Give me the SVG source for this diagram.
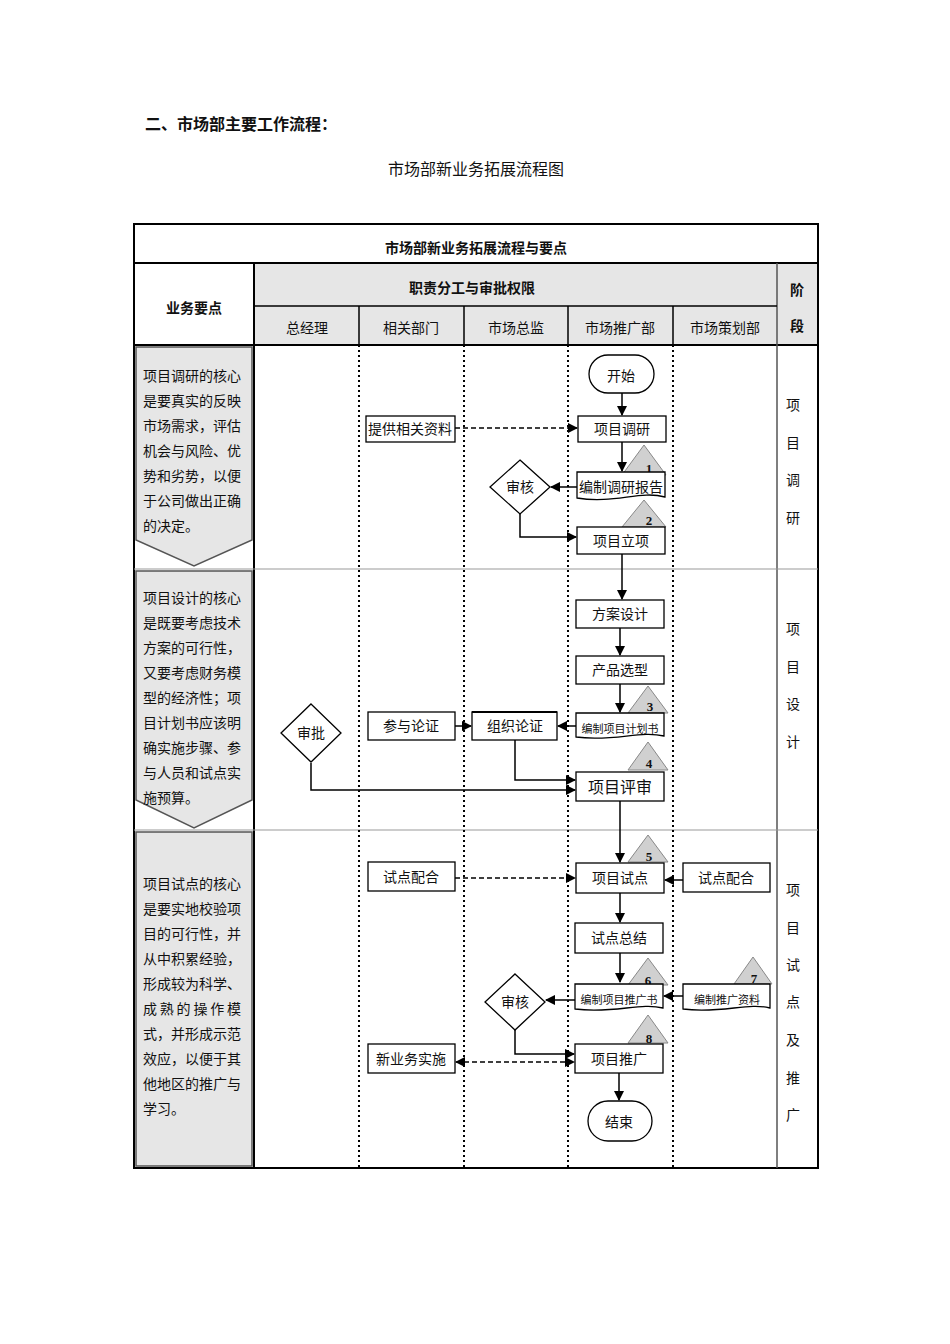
<svg xmlns="http://www.w3.org/2000/svg" width="950" height="1344" viewBox="0 0 950 1344">
<defs>
<marker id="ar" viewBox="0 0 10 10" refX="9" refY="5" markerWidth="7" markerHeight="7" orient="auto-start-reverse"><path d="M0,0 L10,5 L0,10 z" fill="#000"/></marker>
<style>
text{font-family:"Liberation Serif","Noto Sans CJK SC",serif;fill:#111}
.b{font-weight:bold;font-family:"Liberation Sans","Noto Sans CJK SC",sans-serif}
.t{font-size:14px;text-anchor:middle}
.s{font-size:11px;text-anchor:middle}
.l{font-size:14px}
.box{fill:#fff;stroke:#000;stroke-width:1.3}
.tri{fill:#d0d0d0;stroke:#888;stroke-width:1}
.num{font-size:13px;font-weight:bold;text-anchor:middle}
.ln{fill:none;stroke:#000;stroke-width:1.5}
.da{fill:none;stroke:#000;stroke-width:1.5;stroke-dasharray:5,3}
.dot{stroke:#000;stroke-width:2;stroke-dasharray:2,3}
.grid{stroke:#999;stroke-width:1}
.pent{fill:#e6e6e6;stroke:#555;stroke-width:1.5}
</style>
</defs>
<text x="145" y="130" class="b" font-size="16">二、市场部主要工作流程：</text>
<text x="476" y="175" font-size="16" text-anchor="middle">市场部新业务拓展流程图</text>

<g id="table">
<rect x="254" y="263" width="564" height="82" fill="#e6e6e6"/>
<rect x="134" y="224" width="684" height="944" fill="none" stroke="#000" stroke-width="2"/>
<line x1="134" y1="263" x2="818" y2="263" stroke="#000" stroke-width="2"/>
<line x1="134" y1="345" x2="818" y2="345" stroke="#000" stroke-width="2"/>
<line x1="254" y1="263" x2="254" y2="1168" stroke="#000" stroke-width="2"/>
<line x1="777" y1="263" x2="777" y2="1168" stroke="#555" stroke-width="1.5"/>
<line x1="254" y1="306" x2="777" y2="306" stroke="#000" stroke-width="1.5"/>
<line x1="134" y1="569" x2="818" y2="569" class="grid"/>
<line x1="134" y1="830" x2="818" y2="830" class="grid"/>
<line x1="359" y1="306" x2="359" y2="345" stroke="#000" stroke-width="1.5"/>
<line x1="464" y1="306" x2="464" y2="345" stroke="#000" stroke-width="1.5"/>
<line x1="568" y1="306" x2="568" y2="345" stroke="#000" stroke-width="1.5"/>
<line x1="673" y1="306" x2="673" y2="345" stroke="#000" stroke-width="1.5"/>
<line x1="359" y1="345" x2="359" y2="1168" class="dot"/>
<line x1="464" y1="345" x2="464" y2="1168" class="dot"/>
<line x1="568" y1="345" x2="568" y2="1168" class="dot"/>
<line x1="673" y1="345" x2="673" y2="1168" class="dot"/>
<text x="476" y="253" class="b t">市场部新业务拓展流程与要点</text>
<text x="472" y="293" class="b t">职责分工与审批权限</text>
<text x="194" y="313" class="b t">业务要点</text>
<text x="797" y="295" class="b t">阶</text>
<text x="797" y="331" class="b t">段</text>
<text x="307" y="333" class="t">总经理</text>
<text x="411" y="333" class="t">相关部门</text>
<text x="516" y="333" class="t">市场总监</text>
<text x="620" y="333" class="t">市场推广部</text>
<text x="725" y="333" class="t">市场策划部</text>
</g>

<g id="phases" class="t">
<text x="793" y="410" class="t">项</text><text x="793" y="448" class="t">目</text><text x="793" y="485" class="t">调</text><text x="793" y="523" class="t">研</text>
<text x="793" y="634" class="t">项</text><text x="793" y="672" class="t">目</text><text x="793" y="709" class="t">设</text><text x="793" y="747" class="t">计</text>
<text x="793" y="895" class="t">项</text><text x="793" y="933" class="t">目</text><text x="793" y="970" class="t">试</text><text x="793" y="1007" class="t">点</text><text x="793" y="1045" class="t">及</text><text x="793" y="1083" class="t">推</text><text x="793" y="1120" class="t">广</text>
</g>

<g id="points">
<path class="pent" d="M136,347 H252 V540 L194,566 L136,540 Z"/>
<path class="pent" d="M136,571 H252 V800 L194,828 L136,800 Z"/>
<rect class="pent" x="136" y="832" width="116" height="334"/>
<text class="l" x="143" y="381">项目调研的核心</text>
<text class="l" x="143" y="406">是要真实的反映</text>
<text class="l" x="143" y="431">市场需求，评估</text>
<text class="l" x="143" y="456">机会与风险、优</text>
<text class="l" x="143" y="481">势和劣势，以便</text>
<text class="l" x="143" y="506">于公司做出正确</text>
<text class="l" x="143" y="531">的决定。</text>
<text class="l" x="143" y="603">项目设计的核心</text>
<text class="l" x="143" y="628">是既要考虑技术</text>
<text class="l" x="143" y="653">方案的可行性，</text>
<text class="l" x="143" y="678">又要考虑财务模</text>
<text class="l" x="143" y="703">型的经济性；项</text>
<text class="l" x="143" y="728">目计划书应该明</text>
<text class="l" x="143" y="753">确实施步骤、参</text>
<text class="l" x="143" y="778">与人员和试点实</text>
<text class="l" x="143" y="803">施预算。</text>
<text class="l" x="143" y="889">项目试点的核心</text>
<text class="l" x="143" y="914">是要实地校验项</text>
<text class="l" x="143" y="939">目的可行性，并</text>
<text class="l" x="143" y="964">从中积累经验，</text>
<text class="l" x="143" y="989">形成较为科学、</text>
<text class="l" x="143" y="1014" textLength="98">成熟的操作模</text>
<text class="l" x="143" y="1039">式，并形成示范</text>
<text class="l" x="143" y="1064">效应，以便于其</text>
<text class="l" x="143" y="1089">他地区的推广与</text>
<text class="l" x="143" y="1114">学习。</text>
</g>

<g id="connectors">
<line class="ln" x1="622" y1="393" x2="622" y2="415" marker-end="url(#ar)"/>
<line class="da" x1="455" y1="428" x2="577" y2="428" marker-end="url(#ar)"/>
<line class="ln" x1="622" y1="442" x2="622" y2="471" marker-end="url(#ar)"/>
<line class="ln" x1="577" y1="487" x2="551" y2="487" marker-end="url(#ar)"/>
<polyline class="ln" points="520,514 520,537 576,537" marker-end="url(#ar)"/>
<line class="ln" x1="622" y1="554" x2="622" y2="599" marker-end="url(#ar)"/>
<line class="ln" x1="620" y1="628" x2="620" y2="655" marker-end="url(#ar)"/>
<line class="ln" x1="620" y1="684" x2="620" y2="712" marker-end="url(#ar)"/>
<line class="ln" x1="576" y1="726" x2="558" y2="726" marker-end="url(#ar)"/>
<line class="ln" x1="455" y1="726" x2="471" y2="726" marker-end="url(#ar)"/>
<polyline class="ln" points="515,740 515,780 575,780" marker-end="url(#ar)"/>
<polyline class="ln" points="311,763 311,790 575,790" marker-end="url(#ar)"/>
<line class="ln" x1="620" y1="801" x2="620" y2="862" marker-end="url(#ar)"/>
<line class="da" x1="455" y1="878" x2="575" y2="878" marker-end="url(#ar)"/>
<line class="ln" x1="683" y1="880" x2="665" y2="880" marker-end="url(#ar)"/>
<line class="ln" x1="620" y1="893" x2="620" y2="922" marker-end="url(#ar)"/>
<line class="ln" x1="620" y1="953" x2="620" y2="982" marker-end="url(#ar)"/>
<line class="ln" x1="683" y1="996" x2="664" y2="996" marker-end="url(#ar)"/>
<line class="ln" x1="575" y1="1000" x2="546" y2="1000" marker-end="url(#ar)"/>
<polyline class="ln" points="515,1030 515,1054 574,1054" marker-end="url(#ar)"/>
<line class="da" x1="456" y1="1062" x2="574" y2="1062" marker-start="url(#ar)" marker-end="url(#ar)"/>
<line class="ln" x1="619" y1="1073" x2="619" y2="1100" marker-end="url(#ar)"/>
</g>

<g id="start"><rect class="box" x="589" y="355" width="65" height="38" rx="19"/><text class="t" x="621" y="381">开始</text></g>
<g id="n-research"><rect class="box" x="578" y="416" width="88" height="26"/><text class="t" x="622" y="434">项目调研</text></g>
<g id="n-provide"><rect class="box" x="366" y="416" width="89" height="26"/><text class="t" x="410" y="434">提供相关资料</text></g>
<g id="tri1"><path class="tri" d="M644,445 L666,475 L622,475 Z"/><text class="num" x="649" y="473">1</text></g>
<g id="n-report"><path class="box" d="M577,472 H665 V497 C640,490 615,504 577,498 Z"/><text class="t" x="621" y="492">编制调研报告</text></g>
<g id="tri2"><path class="tri" d="M644,500 L666,527 L622,527 Z"/><text class="num" x="649" y="525">2</text></g>
<g id="d-review1"><path class="box" d="M520,460 L550,487 L520,514 L490,487 Z"/><text class="t" x="520" y="492">审核</text></g>
<g id="n-setup"><rect class="box" x="577" y="527" width="88" height="27"/><text class="t" x="621" y="546">项目立项</text></g>

<g id="n-design"><rect class="box" x="576" y="600" width="88" height="28"/><text class="t" x="620" y="619">方案设计</text></g>
<g id="n-product"><rect class="box" x="576" y="656" width="88" height="28" stroke-width="2"/><text class="t" x="620" y="675">产品选型</text></g>
<g id="tri3"><path class="tri" d="M648,686 L668,713 L628,713 Z"/><text class="num" x="650" y="711">3</text></g>
<g id="n-plan"><path class="box" d="M576,713 H664 V736 C640,730 615,742 576,737 Z"/><text class="s" x="620" y="733">编制项目计划书</text></g>
<g id="tri4"><path class="tri" d="M648,742 L668,770 L628,770 Z"/><text class="num" x="649" y="768">4</text></g>
<g id="n-org"><rect class="box" x="472" y="712" width="85" height="28"/><line x1="472" y1="712" x2="557" y2="712" stroke="#000" stroke-width="2"/><text class="t" x="515" y="731">组织论证</text></g>
<g id="n-join"><rect class="box" x="368" y="712" width="87" height="28"/><text class="t" x="411" y="731">参与论证</text></g>
<g id="d-approve"><path class="box" d="M311,704 L341,733 L311,762 L281,733 Z"/><text class="t" x="311" y="738">审批</text></g>
<g id="n-eval"><rect class="box" x="576" y="772" width="88" height="29"/><text x="620" y="793" font-size="16" text-anchor="middle">项目评审</text></g>

<g id="tri5"><path class="tri" d="M648,835 L668,862 L628,862 Z"/><text class="num" x="649" y="861">5</text></g>
<g id="n-pilot"><rect class="box" x="576" y="863" width="88" height="30"/><text class="t" x="620" y="883">项目试点</text></g>
<g id="n-coop1"><rect class="box" x="368" y="862" width="87" height="29"/><text class="t" x="411" y="882">试点配合</text></g>
<g id="n-coop2"><rect class="box" x="683" y="863" width="87" height="29"/><text class="t" x="726" y="883">试点配合</text></g>
<g id="n-sum"><rect class="box" x="575" y="923" width="88" height="30"/><text class="t" x="619" y="943">试点总结</text></g>
<g id="tri6"><path class="tri" d="M648,958 L668,985 L628,985 Z"/><text class="num" x="648" y="985">6</text></g>
<g id="n-promobook"><path class="box" d="M575,984 H663 V1008 C640,1002 615,1014 575,1009 Z"/><text class="s" x="619" y="1004">编制项目推广书</text></g>
<g id="tri7"><path class="tri" d="M753,957 L772,984 L734,984 Z"/><text class="num" x="754" y="983">7</text></g>
<g id="n-promomat"><path class="box" d="M683,984 H770 V1008 C748,1002 722,1014 683,1009 Z"/><text class="s" x="727" y="1004">编制推广资料</text></g>
<g id="d-review2"><path class="box" d="M515,974 L545,1002 L515,1030 L485,1002 Z"/><text class="t" x="515" y="1007">审核</text></g>
<g id="tri8"><path class="tri" d="M648,1015 L668,1043 L628,1043 Z"/><text class="num" x="649" y="1043">8</text></g>
<g id="n-promo"><rect class="box" x="575" y="1044" width="88" height="29"/><text class="t" x="619" y="1064">项目推广</text></g>
<g id="n-newbiz"><rect class="box" x="368" y="1044" width="87" height="29"/><text class="t" x="411" y="1064">新业务实施</text></g>
<g id="end"><rect class="box" x="588" y="1101" width="64" height="40" rx="20"/><text class="t" x="619" y="1127">结束</text></g>
</svg>
